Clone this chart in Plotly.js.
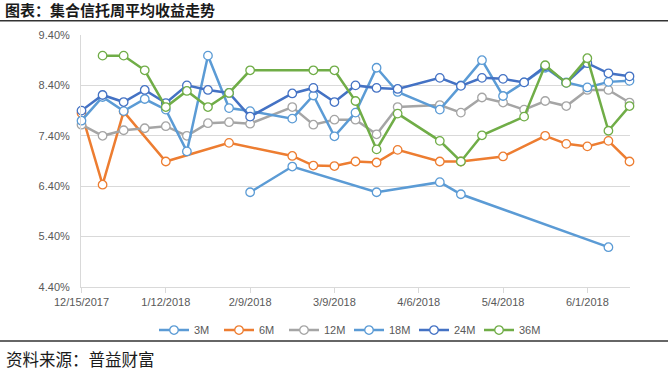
<!DOCTYPE html>
<html>
<head>
<meta charset="utf-8">
<script src="https://cdn.plot.ly/plotly-3.0.1.min.js"></script>
<style>
html,body{margin:0;padding:0;background:#fff;}
#chart{width:668px;height:377px;}
</style>
</head>
<body>
<div id="chart"></div>
<script>
const dates = ['2017-12-15','2017-12-22','2017-12-29','2018-01-05','2018-01-12','2018-01-19','2018-01-26','2018-02-02','2018-02-09','2018-02-16','2018-02-23','2018-03-02','2018-03-09','2018-03-16','2018-03-23','2018-03-30','2018-04-06','2018-04-13','2018-04-20','2018-04-27','2018-05-04','2018-05-11','2018-05-18','2018-05-25','2018-06-01','2018-06-08','2018-06-15'];

const m3  = [null,null,null,null,null,null,null,null,6.28,null,6.79,null,null,null,6.28,null,null,6.48,6.24,null,null,null,null,null,null,5.19,null];
const m6  = [7.85,6.43,7.88,null,6.89,null,null,7.26,null,null,7.00,6.81,6.80,6.89,6.87,7.12,null,6.89,6.89,null,6.99,null,7.40,7.24,7.19,7.30,6.89];
const m12 = [7.62,7.40,7.51,7.55,7.59,7.40,7.65,7.67,7.64,null,7.97,7.62,7.72,7.72,7.43,7.97,null,8.01,7.86,8.16,8.06,7.92,8.09,7.99,8.31,8.31,8.06];
const m18 = [7.70,8.17,7.89,8.13,7.92,7.09,8.99,7.95,7.89,null,7.74,8.20,7.39,7.86,8.75,8.27,null,7.92,8.40,8.90,8.19,8.46,8.75,8.46,8.36,8.47,8.49];
const m24 = [7.90,8.21,8.07,8.31,8.05,8.40,8.31,8.25,7.78,null,8.24,8.35,8.07,8.40,8.35,8.33,null,8.55,8.39,8.55,8.53,8.46,8.78,8.45,8.84,8.64,8.58];
const m36 = [null,8.99,8.99,8.70,7.97,8.29,7.97,8.25,8.70,null,null,8.70,8.70,8.09,7.13,7.84,null,7.30,6.89,7.41,null,7.78,8.80,8.45,8.94,7.50,7.99];

const seriesNames = ['3M','6M','12M','18M','24M','36M'];
const seriesColors = ['#5B9BD5','#ED7D31','#A5A5A5','#5B9BD5','#4472C4','#70AD47'];
const seriesData = [m3,m6,m12,m18,m24,m36];

const xTickVals = ['2017-12-15','2018-01-12','2018-02-09','2018-03-09','2018-04-06','2018-05-04','2018-06-01'];
const xTickText = ['12/15/2017','1/12/2018','2/9/2018','3/9/2018','4/6/2018','5/4/2018','6/1/2018'];
const yTickVals = [4.4,5.4,6.4,7.4,8.4,9.4];
const yTickText = ['4.40%','5.40%','6.40%','7.40%','8.40%','9.40%'];

const titleText = '图表：集合信托周平均收益走势';
const sourceText = '资料来源：普益财富';

const traces = seriesData.map((d,i)=>({
  type:'scatter', mode:'lines+markers', name:seriesNames[i],
  x:dates, y:d, connectgaps:true, cliponaxis:false,
  line:{color:seriesColors[i], width:2.5},
  marker:{symbol:'circle', size:8.5, color:'#ffffff', line:{color:seriesColors[i], width:1.3}}
}));

const L=81, R=630, T=35.3, B=287;
const pw=R-L, ph=B-T;
const layout = {
  width:668, height:377,
  margin:{l:L, r:668-R, t:T, b:377-B},
  paper_bgcolor:'#ffffff', plot_bgcolor:'#ffffff',
  font:{family:'Liberation Sans, Arial, sans-serif', size:11, color:'#595959'},
  title:{text:titleText, font:{family:'Noto Sans CJK SC, sans-serif', size:15, color:'#1a1a1a', weight:'bold'},
    xref:'container', yref:'container', x:5/668, xanchor:'left', y:1-11/377, yanchor:'middle'},
  xaxis:{type:'date', range:['2017-12-14 20:00','2018-06-15 04:00'],
    tickvals:xTickVals, ticktext:xTickText, showgrid:false, zeroline:false,
    showline:true, linecolor:'#D9D9D9', linewidth:1,
    ticks:'outside', ticklen:5, tickcolor:'#D9D9D9',
    tickfont:{size:11, color:'#595959'}},
  yaxis:{range:[4.4,9.4], tickvals:yTickVals, ticktext:yTickText,
    showgrid:true, gridcolor:'#D9D9D9', gridwidth:1, zeroline:false,
    showline:true, linecolor:'#D9D9D9', ticks:'', ticklabelstandoff:8,
    tickfont:{size:11, color:'#595959'}},
  showlegend:true,
  legend:{orientation:'h', x:(349-L)/pw, xanchor:'center', y:(B-330)/ph, yanchor:'middle',
    font:{size:11, color:'#595959'}, itemwidth:30, entrywidth:20, entrywidthmode:'pixels', bgcolor:'rgba(0,0,0,0)'},
  shapes:[
    {type:'line', xref:'paper', yref:'paper', x0:(0-L)/pw, x1:(668-L)/pw, y0:(B-21)/ph, y1:(B-21)/ph, line:{color:'#333333', width:1.5}},
    {type:'line', xref:'paper', yref:'paper', x0:(0-L)/pw, x1:(668-L)/pw, y0:(B-341)/ph, y1:(B-341)/ph, line:{color:'#333333', width:1.5}}
  ],
  annotations:[
    {text:sourceText, xref:'paper', yref:'paper', x:(4-L)/pw, xanchor:'left', y:(B-359)/ph, yanchor:'middle',
     showarrow:false, font:{family:'Noto Sans CJK SC, sans-serif', size:16.5, color:'#1a1a1a'}}
  ]
};

Plotly.newPlot('chart', traces, layout, {displayModeBar:false, staticPlot:true});
</script>
</body>
</html>
